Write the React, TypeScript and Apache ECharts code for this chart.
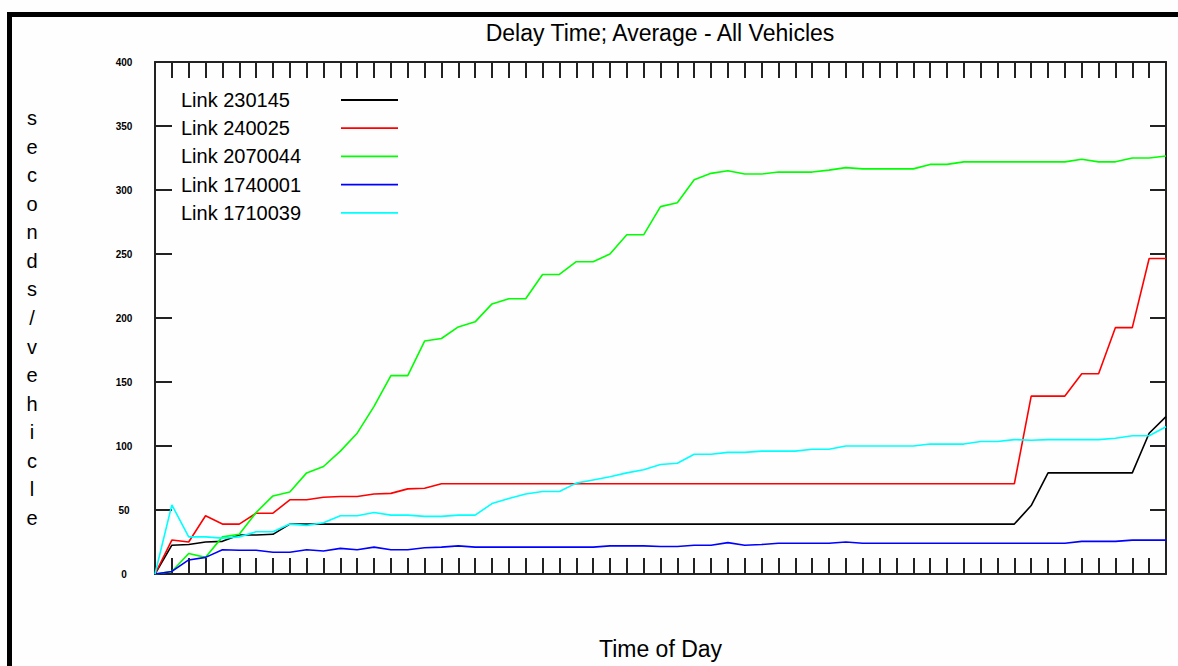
import React, { useEffect, useRef } from "react";
import * as echarts from "echarts";

// x positions: 61 sample points (index of time step), axis has 60 intervals
const seriesNames = ["Link 230145", "Link 240025", "Link 2070044", "Link 1740001", "Link 1710039"];
const seriesColors = ["#000000", "#ff0000", "#00ff00", "#0000ff", "#00ffff"];

const link230145 = [
  0, 22.5, 23, 25, 25.5, 30.5, 30.5, 31, 39, 39,
  39, 39, 39, 39, 39, 39, 39, 39, 39, 39,
  39, 39, 39, 39, 39, 39, 39, 39, 39, 39,
  39, 39, 39, 39, 39, 39, 39, 39, 39, 39,
  39, 39, 39, 39, 39, 39, 39, 39, 39, 39,
  39, 39, 53.5, 79, 79, 79, 79, 79, 79, 110,
  123,
];
const link240025 = [
  0, 26.5, 25, 45.5, 39, 39, 47.5, 47.5, 58, 58,
  60, 60.5, 60.5, 62.5, 63, 66.5, 67, 70.5, 70.5, 70.5,
  70.5, 70.5, 70.5, 70.5, 70.5, 70.5, 70.5, 70.5, 70.5, 70.5,
  70.5, 70.5, 70.5, 70.5, 70.5, 70.5, 70.5, 70.5, 70.5, 70.5,
  70.5, 70.5, 70.5, 70.5, 70.5, 70.5, 70.5, 70.5, 70.5, 70.5,
  70.5, 70.5, 139, 139, 139, 156.5, 156.5, 192.5, 192.5, 246.5,
  246.5,
];
const link2070044 = [
  0, 2, 16, 13, 29, 31, 48, 61, 64, 79,
  84, 96, 110, 131, 155, 155, 182, 184, 193, 197,
  211, 215, 215, 234, 234, 244, 244, 250, 265, 265,
  287, 290, 308, 313, 315, 312.5, 312.5, 314, 314, 314,
  315.5, 317.5, 316.5, 316.5, 316.5, 316.5, 320, 320, 322, 322,
  322, 322, 322, 322, 322, 324, 322, 322, 325, 325,
  326.5,
];
const link1740001 = [
  0, 2, 11, 13, 19, 18.5, 18.5, 17, 17, 19,
  18, 20, 19, 21, 19, 19, 20.5, 21, 22, 21,
  21, 21, 21, 21, 21, 21, 21, 22, 22, 22,
  21.5, 21.5, 22.5, 22.5, 24.5, 22.5, 23, 24, 24, 24,
  24, 25, 24, 24, 24, 24, 24, 24, 24, 24,
  24, 24, 24, 24, 24, 25.5, 25.5, 25.5, 26.5, 26.5,
  26.5,
];
const link1710039 = [
  0, 54, 29, 29, 28, 29, 33, 33, 39, 38,
  40, 45.5, 45.5, 48, 46, 46, 45, 45, 46, 46,
  55, 59, 62.5, 64.5, 64.5, 71, 73.5, 76, 79, 81.5,
  85.5, 86.5, 93.5, 93.5, 95, 95, 96, 96, 96, 97.5,
  97.5, 100, 100, 100, 100, 100, 101.5, 101.5, 101.5, 103.5,
  103.5, 105, 104.5, 105, 105, 105, 105, 106, 108, 108,
  115,
];
const seriesValues = [link230145, link240025, link2070044, link1740001, link1710039];

const titleText = "Delay Time; Average - All Vehicles";
const xAxisTitle = "Time of Day";
const yAxisTitle = "seconds/vehicle";
const xMin = 0;
const xMax = 60;
const yMin = 0;
const yMax = 400;
const yStep = 50;

const FONT = "Liberation Sans, Arial, sans-serif";
const AXIS_COLOR = "#222222";

export default function App() {
  const ref = useRef<HTMLDivElement>(null);

  useEffect(() => {
    document.body.style.margin = "0";
    if (!ref.current) return;
    const chart = echarts.init(ref.current, null, { renderer: "svg" });

    const axisLine = { show: true, onZero: false, lineStyle: { color: AXIS_COLOR, width: 2 } };
    const axisTick = (len: number) => ({
      show: true,
      inside: true,
      length: len,
      lineStyle: { color: AXIS_COLOR, width: 2 },
    });

    const option: any = {
      animation: false,
      backgroundColor: "#fefefe",
      textStyle: { fontFamily: FONT },
      title: {
        text: titleText,
        left: 660,
        top: 21,
        textAlign: "center",
        padding: 0,
        textStyle: { fontSize: 23, fontWeight: "normal", color: "#000", fontFamily: FONT },
      },
      legend: {
        orient: "vertical",
        left: 181,
        top: 90,
        padding: 0,
        align: "right",
        itemWidth: 57,
        itemHeight: 20,
        itemGap: 8.2,
        data: seriesNames,
        itemStyle: { opacity: 0 },
        lineStyle: { width: 1.8 },
        formatter: (name: string) => `{a|${name}}`,
        textStyle: {
          color: "#000",
          fontFamily: FONT,
          fontSize: 20,
          rich: {
            a: { width: 155, align: "left", fontSize: 20, fontFamily: FONT, color: "#000" },
          },
        },
      },
      grid: { left: 155, top: 62, right: 12, bottom: 92, containLabel: false },
      xAxis: [
        {
          type: "value",
          position: "bottom",
          min: xMin,
          max: xMax,
          interval: 1,
          axisLine,
          axisTick: axisTick(16),
          axisLabel: { show: false },
          splitLine: { show: false },
          name: xAxisTitle,
          nameLocation: "middle",
          nameGap: 75,
          nameTextStyle: { fontSize: 23, color: "#000", fontFamily: FONT, verticalAlign: "middle" },
        },
        {
          type: "value",
          position: "top",
          min: xMin,
          max: xMax,
          interval: 1,
          axisLine,
          axisTick: axisTick(16),
          axisLabel: { show: false },
          splitLine: { show: false },
        },
      ],
      yAxis: [
        {
          type: "value",
          position: "left",
          min: yMin,
          max: yMax,
          interval: yStep,
          axisLine,
          axisTick: axisTick(17),
          axisLabel: {
            show: true,
            align: "center",
            margin: 31,
            fontSize: 10,
            fontWeight: "bold",
            color: "#000",
            fontFamily: FONT,
          },
          splitLine: { show: false },
          name: yAxisTitle.split("").join("\n"),
          nameLocation: "middle",
          nameRotate: 0,
          nameGap: 123,
          nameTextStyle: {
            fontSize: 20,
            lineHeight: 28.57,
            align: "center",
            verticalAlign: "middle",
            color: "#000",
            fontFamily: FONT,
          },
        },
        {
          type: "value",
          position: "right",
          min: yMin,
          max: yMax,
          interval: yStep,
          axisLine,
          axisTick: axisTick(16),
          axisLabel: { show: false },
          splitLine: { show: false },
        },
      ],
      series: seriesNames.map((name, k) => ({
        name,
        type: "line",
        xAxisIndex: 0,
        yAxisIndex: 0,
        symbol: "none",
        showSymbol: false,
        color: seriesColors[k],
        lineStyle: { color: seriesColors[k], width: 1.6 },
        data: seriesValues[k].map((v, i) => [i, v]),
      })),
      graphic: [
        { type: "rect", shape: { x: 7, y: 12, width: 1171, height: 5 }, style: { fill: "#000" }, silent: true },
        { type: "rect", shape: { x: 7, y: 12, width: 5, height: 654 }, style: { fill: "#000" }, silent: true },
      ],
    };

    chart.setOption(option);
    return () => chart.dispose();
  }, []);

  return <div ref={ref} style={{ width: 1178, height: 666 }} />;
}
